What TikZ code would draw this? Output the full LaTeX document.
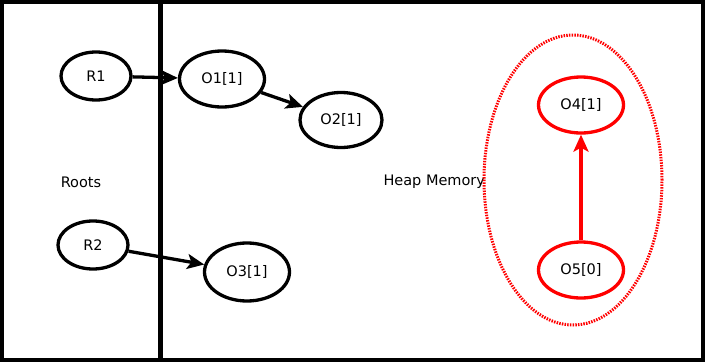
\documentclass[tikz,border=0pt]{standalone}
\usepackage{fontspec}
\setmainfont{DejaVu Sans}
\usepackage{xcolor}
\usetikzlibrary{arrows.meta,shapes.geometric}

\begin{document}
\begin{tikzpicture}[
    x=1pt, y=-1pt,
    font=\fontsize{14.5}{17}\selectfont,
    obj/.style={
      draw,
      ellipse,
      line width=3.3pt,
      inner sep=0pt,
      minimum width=85pt,
      minimum height=56pt
    },
    root/.style={obj, minimum width=70pt, minimum height=48pt},
    garbage/.style={obj, draw=red},
    flow/.style={-{Stealth[length=17pt, width=15pt, inset=4pt]}, line width=3.3pt},
    region/.style={draw=red, line width=3pt, dash pattern=on 1.5pt off 1.2pt}
  ]
    \useasboundingbox (0,0) rectangle (705,362);
    % frame and split between the two areas
    \draw[line width=4.5pt] (2,2) rectangle (703,360);
    \draw[line width=5.5pt] (160.5,0) -- (160.5,362);

    \node at (81,182) {Roots};
    \node[anchor=west] at (380,182) {Heap Memory};

    \node[root] (r1) at (96,76) {R1};
    \node[root] (r2) at (93,245) {R2};
    \node[obj] (o1) at (222,79) {O1[1]};
    \node[obj, minimum width=82pt, minimum height=55pt] (o2) at (341,120) {O2[1]};
    \node[obj, minimum height=58pt] (o3) at (247,272) {O3[1]};

    % unreachable objects
    \draw[region] (573,180) ellipse (89pt and 145pt);
    \node[garbage] (o4) at (581,105) {O4[1]};
    \node[garbage] (o5) at (581,270) {O5[0]};

    \draw[flow] (r1) -- (o1);
    \draw[flow] (o1) -- (o2);
    \draw[flow] (r2) -- (o3);
    \draw[flow, red] (o5) -- (o4);
  \end{tikzpicture}
\end{document}
